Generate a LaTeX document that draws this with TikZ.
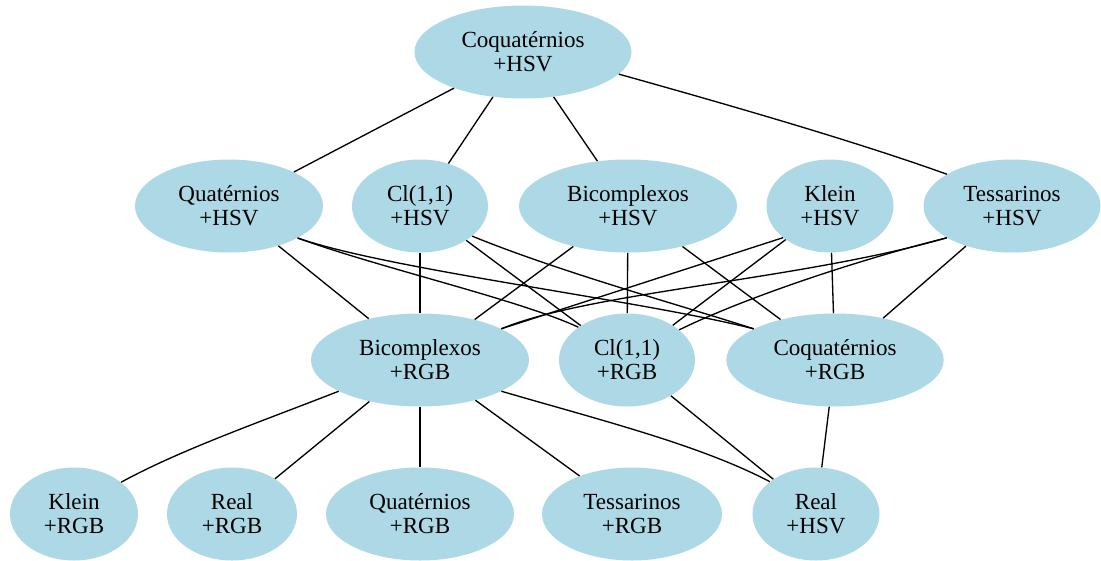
\documentclass[tikz,border=0pt]{standalone}
\usepackage{fontspec}
\setmainfont{Liberation Serif}
\usetikzlibrary{shapes.geometric}
\definecolor{lb}{RGB}{173,216,230}
\begin{document}
\begin{tikzpicture}[x=0.75pt,y=-0.75pt,
  nd/.style={ellipse, fill=lb, inner sep=0pt, align=center, minimum height=69.75pt, font=\fontsize{17.3}{18}\selectfont},
  ln/.style={line width=1pt, black}]
\useasboundingbox (0,0) rectangle (1101,561);
% row 1
\node[nd, minimum width=162.75pt] (coqH) at (523,52) {Coquatérnios\\+HSV};
% row 2
\node[nd, minimum width=141pt] (quatH) at (229,206) {Quatérnios\\+HSV};
\node[nd, minimum width=102pt] (clH) at (420,206) {Cl(1,1)\\+HSV};
\node[nd, minimum width=163.5pt] (bicH) at (628,206) {Bicomplexos\\+HSV};
\node[nd, minimum width=95.25pt] (kleinH) at (830,206) {Klein\\+HSV};
\node[nd, minimum width=132.75pt] (tessH) at (1012,206) {Tessarinos\\+HSV};
% row 3
\node[nd, minimum width=163.5pt] (bicR) at (420,360) {Bicomplexos\\+RGB};
\node[nd, minimum width=102pt] (clR) at (627,360) {Cl(1,1)\\+RGB};
\node[nd, minimum width=163pt] (coqR) at (835,360) {Coquatérnios\\+RGB};
% row 4
\node[nd, minimum width=96pt] (kleinR) at (74,514) {Klein\\+RGB};
\node[nd, minimum width=97.5pt] (realR) at (232,514) {Real\\+RGB};
\node[nd, minimum width=141pt] (quatR) at (420,514) {Quatérnios\\+RGB};
\node[nd, minimum width=135pt] (tessR) at (632,514) {Tessarinos\\+RGB};
\node[nd, minimum width=95.25pt] (realH) at (816,514) {Real\\+HSV};
% edges from top
\draw[ln] (coqH) -- (quatH);
\draw[ln] (coqH) -- (clH);
\draw[ln] (coqH) -- (bicH);
\draw[ln] (coqH.-13.7) .. controls (740,108) and (860,143) .. (tessH.154);
% row 2 to row 3
\draw[ln] (quatH) -- (bicR);
\draw[ln] (quatH.-25) .. controls (380,268) and (520,300) .. (clR.146.6);
\draw[ln] (quatH.-25) .. controls (390,270) and (640,300) .. (coqR.159);
\draw[ln] (clH) -- (bicR);
\draw[ln] (clH) -- (clR);
\draw[ln] (clH.-30.8) .. controls (560,272) and (680,305) .. (coqR.159);
\draw[ln] (bicH) -- (bicR);
\draw[ln] (bicH) -- (clR);
\draw[ln] (bicH) -- (coqR);
\draw[ln] (kleinH.214) -- (bicR.21.8);
\draw[ln] (kleinH) -- (clR);
\draw[ln] (kleinH) -- (coqR);
\draw[ln] (tessH.206.6) .. controls (800,280) and (590,292) .. (bicR.21.8);
\draw[ln] (tessH.206.6) .. controls (850,262) and (740,300) .. (clR.30.3);
\draw[ln] (tessH) -- (coqR);
% row 3 to row 4
\draw[ln] (bicR.201.8) .. controls (260,422) and (180,450) .. (kleinR.34);
\draw[ln] (bicR) -- (realR);
\draw[ln] (bicR) -- (quatR);
\draw[ln] (bicR) -- (tessR);
\draw[ln] (bicR.-21.8) .. controls (600,420) and (700,445) .. (realH.145);
\draw[ln] (clR) -- (realH);
\draw[ln] (coqR) -- (realH);
\end{tikzpicture}
\end{document}
